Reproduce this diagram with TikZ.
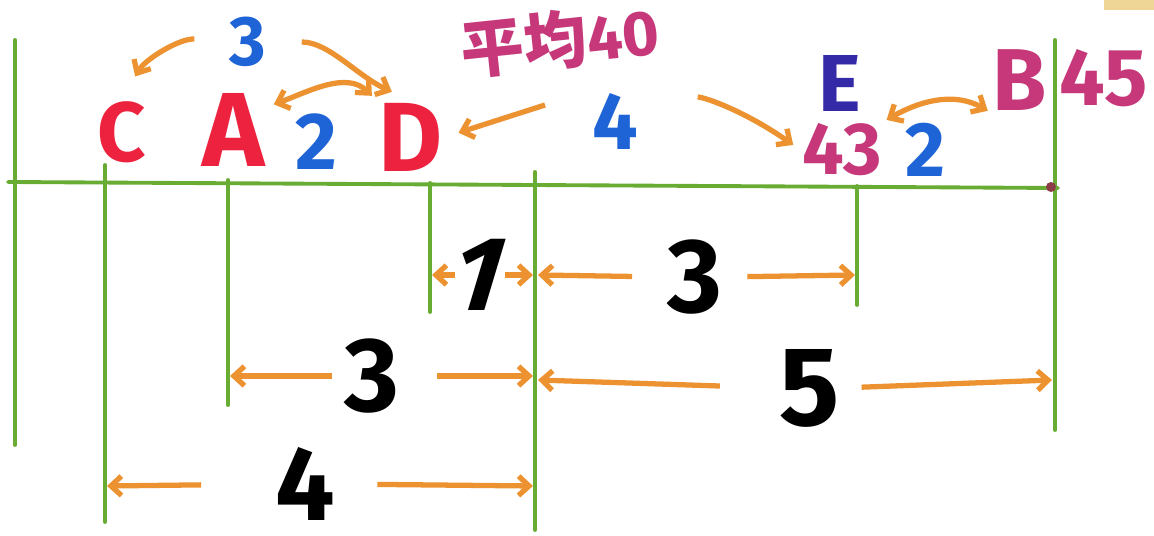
\documentclass[tikz,border=0pt]{standalone}
\usepackage{fontspec}
\setmainfont{Fira Sans}
\newfontfamily\cjkfont{Noto Sans CJK JP}
\usetikzlibrary{arrows.meta,positioning}
\definecolor{rulegreen}{RGB}{104,172,52}
\definecolor{markred}{RGB}{236,34,62}
\definecolor{gapblue}{RGB}{30,100,214}
\definecolor{agepink}{RGB}{198,56,122}
\definecolor{markindigo}{RGB}{52,42,168}
\definecolor{arroworange}{RGB}{236,146,48}
\definecolor{dotbrown}{RGB}{140,60,70}
\definecolor{cornerbeige}{RGB}{240,214,150}
\tikzset{
  >={Straight Barb[length=6pt,width=11pt]},
  rule/.style={draw=rulegreen,line width=2.2pt,line cap=round},
  hint/.style={->,draw=arroworange,line width=3pt},
  hintboth/.style={<->,draw=arroworange,line width=3pt},
  person/.style={text=markred,font=\fontsize{50}{50}\selectfont\bfseries,inner sep=1pt},
  gap/.style={text=gapblue,font=\fontsize{40}{40}\selectfont\bfseries,inner sep=1pt},
  age/.style={text=agepink,font=\fontsize{42}{42}\selectfont\bfseries,inner sep=1pt},
  span/.style={text=black,font=\fontsize{60}{60}\selectfont\bfseries,inner sep=0pt}
}

\begin{document}
\begin{tikzpicture}[x=0.02cm,y=-0.02cm]
  \useasboundingbox (0,0) rectangle (1154,536);
  \fill[white] (0,0) rectangle (1154,536);
  \fill[cornerbeige] (1104,0) rectangle (1154,10);

  % number line and marks
  \draw[rule] (8,182) -- (1058,188);
  \draw[rule] (15,40) -- (15,445);
  \draw[rule] (105,165) -- (105,522);
  \draw[rule] (228,180) -- (228,405);
  \draw[rule] (430,183) -- (430,312);
  \draw[rule] (535,172) -- (535,530);
  \draw[rule] (857,186) -- (857,305);
  \draw[rule] (1055,40) -- (1055,430);
  \fill[dotbrown] (1051,187) circle (5);

  % points on the marks
  \coordinate (donea) at (432,275);
  \coordinate (midone) at (533,275);
  \coordinate (midtwo) at (538,275);
  \coordinate (eone) at (855,275);
  \coordinate (atwo) at (230,376);
  \coordinate (midthree) at (533,376);
  \coordinate (midfour) at (538,380);
  \coordinate (btwo) at (1052,380);
  \coordinate (cthree) at (107,486);
  \coordinate (midfive) at (533,486);

  % letters and values above the line
  \node[gap] (gapcd) at (248,42) {3};
  \node[person,font=\fontsize{48}{48}\selectfont\bfseries] (cmark) at (122,132) {C};
  \node[person,font=\fontsize{60}{60}\selectfont\bfseries] (amark) at (234,130) {A};
  \node[gap,font=\fontsize{46}{46}\selectfont\bfseries] (gapad) at (316,142) {2};
  \node[person,font=\fontsize{56}{56}\selectfont\bfseries] (dmark) at (411,137) {D};
  \node[age,font=\fontsize{36}{36}\selectfont\bfseries,rotate=6] (avgforty) at (560,40) {{\cjkfont 平均}40};
  \node[gap,font=\fontsize{46}{46}\selectfont\bfseries] (gapde) at (615,122) {4};
  \node[age,text=markindigo,font=\fontsize{46}{46}\selectfont\bfseries] (emark) at (840,84) {E};
  \node[age] (eage) at (842,150) {43};
  \node[gap,font=\fontsize{44}{44}\selectfont\bfseries] (gapeb) at (925,150) {2};
  \node[age,font=\fontsize{50}{50}\selectfont\bfseries] (bmark) at (1020,80) {B};
  \node[age,font=\fontsize{46}{46}\selectfont\bfseries] (bage) at (1104,78) {45};
  \coordinate (avgtail) at (545,105);

  \draw[hint,shorten <=19pt,shorten >=15pt] (gapcd.west) to[out=175,in=60] (cmark.north);
  \draw[hint,shorten <=19pt,shorten >=12pt] (gapcd.east) to[out=0,in=155] (dmark.north);
  \draw[hintboth,shorten <=4pt,shorten >=4pt] (amark.35) to[out=20,in=135] (dmark.north west);
  \draw[hint,shorten >=8pt] (avgtail) -- (dmark.east);
  \draw[hint,shorten <=33pt,shorten >=5pt] (gapde.north east) to[out=-5,in=145] (eage.west);
  \draw[hintboth,shorten <=2pt,shorten >=2pt] (eage.north east) to[out=30,in=150] (bmark.south west);

  % distances below the line
  \node[span,xslant=0.3] (spandm) at (480,275) {1};
  \node[span] (spanme) at (695,277) {3};
  \node[span] (spanam) at (372,376) {3};
  \node[span,font=\fontsize{64}{64}\selectfont\bfseries] (spanmb) at (810,388) {5};
  \node[span] (spancm) at (305,484) {4};

  \draw[hint] (spandm.west) -- (donea);
  \draw[hint] (spandm.east) -- (midone);
  \draw[hint,shorten <=20pt] (spanme.west) -- (midtwo);
  \draw[hint,shorten <=14pt] (spanme.east) -- (eone);
  \draw[hint,shorten <=7pt] (spanam.west) -- (atwo);
  \draw[hint,shorten <=21pt] (spanam.east) -- (midthree);
  \draw[hint,shorten <=34pt] (spanmb.west) -- (midfour);
  \draw[hint,shorten <=12pt] (spanmb.east) -- (btwo);
  \draw[hint,shorten <=42pt] (spancm.west) -- (cthree);
  \draw[hint,shorten <=24pt] (spancm.east) -- (midfive);
\end{tikzpicture}
\end{document}
